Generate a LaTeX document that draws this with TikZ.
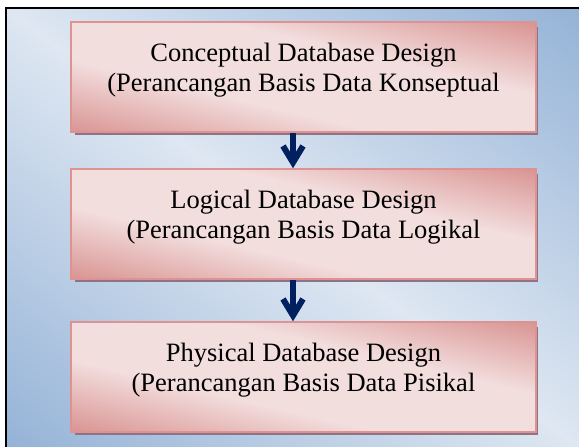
\documentclass[tikz,border=0pt]{standalone}
\usepackage{fontspec}
\setmainfont{Liberation Serif}
\usetikzlibrary{calc,shadows}
\definecolor{bglight}{RGB}{222,231,242}
\definecolor{bgdark}{RGB}{149,179,215}
\definecolor{boxlight}{RGB}{243,222,222}
\definecolor{boxdark}{RGB}{217,150,148}
\definecolor{boxborder}{RGB}{222,146,146}
\definecolor{shadowc}{RGB}{140,116,134}
\definecolor{navy}{RGB}{0,32,96}
\pgfdeclareverticalshading{boxshade}{100bp}{color(0bp)=(boxdark); color(14.6bp)=(boxdark); color(38bp)=(boxlight); color(62bp)=(boxlight); color(85.4bp)=(boxdark); color(100bp)=(boxdark)}
\pgfdeclareverticalshading{bgshade}{100bp}{color(0bp)=(bgdark); color(14.6bp)=(bgdark); color(50bp)=(bglight); color(85.4bp)=(bgdark); color(100bp)=(bgdark)}
\tikzset{
  stagebox/.style={rectangle, draw=boxborder, line width=2pt, fill=boxlight,
    minimum width=463pt, minimum height=108pt, inner sep=0pt,
    general shadow={shadow xshift=3pt, shadow yshift=-4pt, fill=shadowc}},
  stagetext/.style={align=center, inner sep=0pt, font=\fontsize{26.5}{30}\selectfont, text=black},
  flowline/.style={draw=navy, line width=6pt, line join=miter}
}
\begin{document}
\begin{tikzpicture}[x=1pt,y=1pt]
\useasboundingbox (0,0) rectangle (579,447);
\begin{scope}
\clip (0,0) rectangle (579,447);
\begin{scope}[transform canvas={shift={(292.5,219.5)}, xscale=1.305}]
\shade[shading=bgshade, shading angle=-45] (-219.5,-219.5) rectangle (219.5,219.5);
\end{scope}
\fill[white] (0,439.2) rectangle (579,447);
\fill[white] (0,0) rectangle (6.2,447);
\draw[line width=2.5pt, black] (6.2,-20) -- (6.2,439.2) -- (600,439.2);
\end{scope}

\node[stagebox] (b1) at (303.5,369.5) {};
\node[stagebox] (b2) at (303.5,223) {};
\node[stagebox] (b3) at (303.5,70) {};

\foreach \b in {b1,b2,b3}{
  \begin{scope}[transform canvas={shift={(\b.center)}, xscale=4.287}]
    \shade[shading=boxshade, shading angle=-45] (-54,-54) rectangle (54,54);
  \end{scope}
  \draw[boxborder, line width=2pt] (\b.south west) rectangle (\b.north east);
}

\node[stagetext] (t1) at ([yshift=7pt]b1.center) {Conceptual Database Design\\(Perancangan Basis Data Konseptual};
\node[stagetext] (t2) at ([yshift=7pt]b2.center) {Logical Database Design\\(Perancangan Basis Data Logikal};
\node[stagetext] (t3) at ([yshift=7pt]b3.center) {Physical Database Design\\(Perancangan Basis Data Pisikal};

\draw[flowline] ([xshift=-10.5pt,yshift=-1pt]b1.south) -- ([xshift=-10.5pt,yshift=7pt]b2.north);
\draw[flowline] ([xshift=-20.5pt,yshift=23pt]b2.north) -- ([xshift=-10.5pt,yshift=6.5pt]b2.north) -- ([xshift=-0.5pt,yshift=23pt]b2.north);
\draw[flowline] ([xshift=-10.5pt,yshift=-1pt]b2.south) -- ([xshift=-10.5pt,yshift=7pt]b3.north);
\draw[flowline] ([xshift=-20.5pt,yshift=23pt]b3.north) -- ([xshift=-10.5pt,yshift=6.5pt]b3.north) -- ([xshift=-0.5pt,yshift=23pt]b3.north);
\end{tikzpicture}
\end{document}
